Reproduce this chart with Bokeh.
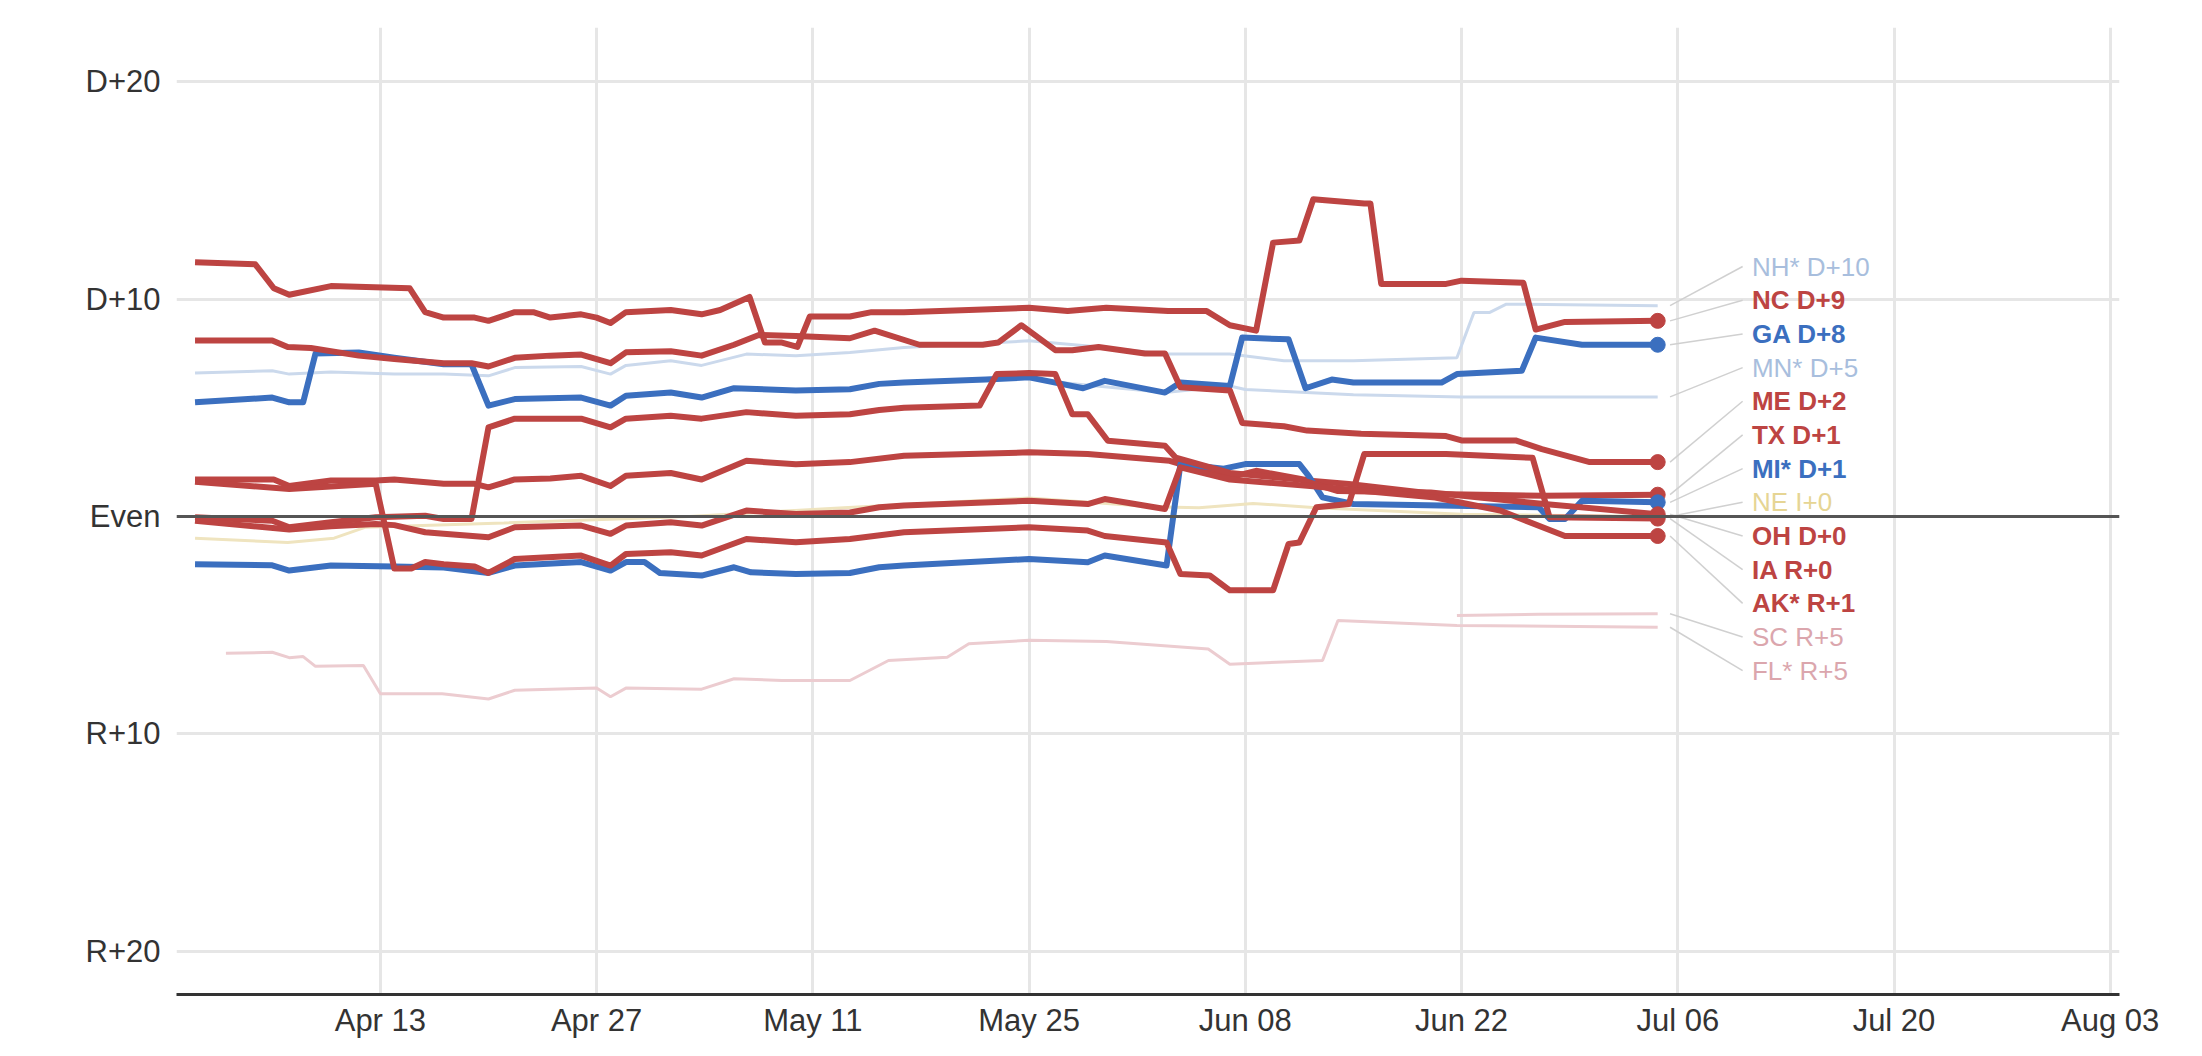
import pandas as pd
from bokeh.plotting import figure
from bokeh.models import FixedTicker, CustomJSTickFormatter, DatetimeTickFormatter, Span
from bokeh.core.properties import value
from bokeh.embed import file_html
from bokeh.resources import INLINE

BASE = pd.Timestamp("2020-04-13")

# days after Apr 13 2020, margin values (+ = D, - = R)
NC_d = [-12,-8.1,-6.9,-5.9,-3.2,1.9,2.9,4.1,6.1,7,8.7,9.9,11,13,14,14.9,15.9,18.8,20.8,22,23.9,24.9,26,27,27.8,30.4,31.8,33.9,38.1,42,44.5,47,51,53.5,55,56.7,57.8,59.5,60.4,63.7,64.1,64.8,69,70,74,74.8,76.7,82.7]
NC_v = [11.7,11.6,10.5,10.2,10.6,10.5,9.4,9.15,9.15,9.0,9.4,9.4,9.15,9.3,9.15,8.9,9.4,9.5,9.3,9.5,10.1,8.0,8.0,7.8,9.2,9.2,9.4,9.4,9.5,9.6,9.45,9.6,9.45,9.45,8.8,8.55,12.6,12.7,14.6,14.4,14.4,10.7,10.7,10.85,10.75,8.6,8.95,9.0]
ME_d = [-12,-7,-6,-4.5,-1.4,0.9,4.1,5.9,7,8.7,11,13,14.9,15.9,18.8,20.8,22.9,24.5,26.9,30.4,32,34.9,39,40,41.5,43.7,44.8,46.5,49.5,50.8,51.8,55,55.8,58.5,60,63.5,69,70,73.5,75.2,78.3,82.7]
ME_v = [8.1,8.1,7.8,7.75,7.4,7.25,7.05,7.05,6.9,7.3,7.4,7.45,7.05,7.55,7.6,7.4,7.9,8.35,8.3,8.2,8.55,7.9,7.9,8.0,8.8,7.65,7.65,7.8,7.5,7.5,5.95,5.8,4.3,4.15,3.95,3.8,3.7,3.5,3.5,3.1,2.5,2.5]
TX_d = [-12,-6.9,-5.9,-3.2,-0.3,0.9,4.1,6.1,7,8.7,11,13,14.9,15.9,18.8,20.8,23.7,26.9,30.4,33.9,38.1,42,45.8,51.1,52.2,55,56.7,60.2,62.7,68.3,75.3,82.7]
TX_v = [1.7,1.7,1.4,1.65,1.65,1.7,1.5,1.5,1.34,1.7,1.75,1.87,1.4,1.87,2.0,1.7,2.56,2.4,2.5,2.79,2.87,2.95,2.87,2.56,2.33,1.8,2.1,1.64,1.49,1.03,0.95,1.0]
IA_d = [-12,-5.9,-0.3,0.9,2,2.9,4.1,6.1,7,8.7,13,14.9,15.9,18.8,20.8,23.7,26.9,30.4,33.9,42,45.8,46.9,50.9,51.8,53.7,55,57.8,58.8,59.5,60.6,62.7,63.7,69,74.6,75.7,82.7]
IA_v = [1.6,1.26,1.5,-2.4,-2.4,-2.1,-2.2,-2.3,-2.6,-1.96,-1.8,-2.26,-1.73,-1.65,-1.8,-1.04,-1.19,-1.04,-0.73,-0.5,-0.65,-0.9,-1.2,-2.65,-2.72,-3.4,-3.4,-1.27,-1.2,0.42,0.57,2.87,2.87,2.7,-0.04,-0.1]
OH_d = [-12,-7,-5.9,-3.2,-0.3,2.9,4.1,5.9,7,8.7,13,14.9,15.9,18.8,20.8,23.7,26.9,30.4,32.3,33.9,38.8,39.9,42,43.7,44.8,45.8,47.1,50.8,51.5,55,59.5,62,68,75,82.7]
OH_v = [-0.04,-0.2,-0.5,-0.27,-0.04,0.03,-0.12,-0.12,4.1,4.5,4.5,4.1,4.5,4.63,4.5,4.8,4.63,4.7,4.9,5.0,5.1,6.55,6.6,6.55,4.7,4.7,3.48,3.25,2.7,2.0,1.7,1.17,1.1,0.6,0.1]
AK_d = [-12,-5.9,-3.2,-0.3,0.9,2.9,4.1,7,8.7,13,14.9,15.9,18.8,20.8,23.7,26.9,30.4,32.3,33.9,42,45.8,46.9,50.8,51.8,55,60.2,68.3,72.5,76.7,82.7]
AK_v = [-0.2,-0.6,-0.45,-0.35,-0.4,-0.73,-0.8,-0.96,-0.5,-0.42,-0.8,-0.42,-0.27,-0.42,0.27,0.11,0.18,0.42,0.5,0.72,0.57,0.8,0.34,2.26,1.7,1.4,0.87,0.27,-0.9,-0.9]
GA_d = [-12,-7,-5.9,-5,-4.2,-1.4,0.9,4.1,5.9,7,8.7,13,14.9,15.9,18.8,20.8,22.9,26.9,30.4,32.3,33.9,39.2,42,43.7,45.5,46.9,50.8,51.8,55,55.8,58.8,59.9,61.6,63,68.7,69.7,73.9,74.8,77.8,82.7]
GA_v = [5.25,5.47,5.25,5.25,7.5,7.54,7.3,7.0,7.0,5.1,5.4,5.47,5.1,5.55,5.7,5.47,5.9,5.8,5.85,6.1,6.16,6.3,6.4,6.16,5.9,6.24,5.7,6.16,6.0,8.23,8.15,5.9,6.3,6.16,6.16,6.55,6.7,8.23,7.9,7.9]
MI_d = [-12,-7,-5.9,-3.2,0.9,4.1,7,8.7,13,14.9,15.9,17.1,18.1,20.8,22.9,24,26.9,30.4,32.3,33.9,42,45.8,46.9,50.9,51.8,54.6,56,59.5,60.1,61,63,68.7,75,75.7,76.7,77.8,82.7]
MI_v = [-2.2,-2.25,-2.49,-2.26,-2.3,-2.35,-2.6,-2.26,-2.1,-2.49,-2.1,-2.1,-2.6,-2.72,-2.34,-2.57,-2.65,-2.6,-2.34,-2.26,-1.96,-2.11,-1.8,-2.26,2.41,2.2,2.41,2.41,1.87,0.88,0.57,0.5,0.42,-0.12,-0.12,0.72,0.65]
NH_d = [-12,-7,-5.9,-3.2,0.9,4.1,7,8.7,13,14.9,15.9,18.8,20.8,23.7,26.9,30.4,33.9,42,46.9,50.8,55,58.5,63,69.7,70.8,71.8,72.9,82.7]
NH_v = [6.6,6.7,6.55,6.65,6.55,6.55,6.47,6.85,6.9,6.55,6.95,7.16,6.95,7.47,7.4,7.54,7.77,8.08,7.77,7.47,7.47,7.16,7.16,7.3,9.38,9.38,9.77,9.7]
MN_d = [44,50.8,55,56,63,70,82.7]
MN_v = [6.16,5.7,6.0,5.84,5.6,5.5,5.5]
NE_d = [-12,-6,-3,-1,8,20,30,42,50,53,56.5,60.6,70,82.7]
NE_v = [-1.0,-1.2,-1.0,-0.5,-0.3,0.0,0.4,0.85,0.45,0.4,0.6,0.4,0.1,0.0]
SC_d = [69.7,75,82.7]
SC_v = [-4.56,-4.5,-4.48]
FL_d = [-10,-7,-5.9,-5,-4.2,-1.1,0,4,7,8.7,14,14.9,15.9,20.8,22.9,26,30.4,32.9,36.7,38.1,42,47,53.6,55,61,62,69.7,82.7]
FL_v = [-6.3,-6.25,-6.5,-6.45,-6.9,-6.86,-8.16,-8.16,-8.4,-8.0,-7.9,-8.3,-7.9,-7.95,-7.47,-7.55,-7.55,-6.63,-6.48,-5.86,-5.7,-5.75,-6.1,-6.8,-6.63,-4.79,-5.02,-5.1]

RED, BLUE = "#bd4442", "#3b6fbf"
LBLUE, LPINK, LYEL = "#cbd9ec", "#ecccd0", "#efe4bf"
series = [
    ("NH", NH_d, NH_v, LBLUE, "#a8bedd", False, "NH* D+10"),
    ("NC", NC_d, NC_v, RED, RED, True, "NC D+9"),
    ("GA", GA_d, GA_v, BLUE, BLUE, True, "GA D+8"),
    ("MN", MN_d, MN_v, LBLUE, "#a8bedd", False, "MN* D+5"),
    ("ME", ME_d, ME_v, RED, RED, True, "ME D+2"),
    ("TX", TX_d, TX_v, RED, RED, True, "TX D+1"),
    ("MI", MI_d, MI_v, BLUE, BLUE, True, "MI* D+1"),
    ("NE", NE_d, NE_v, LYEL, "#e6d594", False, "NE I+0"),
    ("OH", OH_d, OH_v, RED, RED, True, "OH D+0"),
    ("IA", IA_d, IA_v, RED, RED, True, "IA R+0"),
    ("AK", AK_d, AK_v, RED, RED, True, "AK* R+1"),
    ("SC", SC_d, SC_v, LPINK, "#dba6ad", False, "SC R+5"),
    ("FL", FL_d, FL_v, LPINK, "#dba6ad", False, "FL* R+5"),
]

def dt(days):
    return [BASE + pd.Timedelta(days=d) for d in days]

p = figure(width=2186, height=1040, x_axis_type="datetime", output_backend="svg",
           toolbar_location=None,
           x_range=(BASE + pd.Timedelta(days=-13.2), BASE + pd.Timedelta(days=112.6)),
           y_range=(-22, 22.5), min_border_top=27, min_border_bottom=44,
           min_border_left=176, min_border_right=67)
p.outline_line_color = None
p.background_fill_color = "white"
p.border_fill_color = "white"

xt = [(BASE + pd.Timedelta(days=14 * k)).value / 1e6 for k in range(9)]
p.xaxis.ticker = FixedTicker(ticks=xt)
p.xaxis.formatter = DatetimeTickFormatter(days="%b %d", months="%b %d")
p.yaxis.ticker = FixedTicker(ticks=[-20, -10, 0, 10, 20])
p.yaxis.formatter = CustomJSTickFormatter(code="""
if (tick == 0) return 'Even';
return (tick > 0 ? 'D+' : 'R+') + Math.abs(tick);""")
for ax in (p.xaxis, p.yaxis):
    ax.major_label_text_font = "Liberation Sans"
    ax.major_label_text_font_size = "31px"
    ax.major_label_text_color = "#333333"
    ax.major_tick_line_color = None
    ax.minor_tick_line_color = None
    ax.major_tick_out = 0
    ax.major_tick_in = 0
p.yaxis.axis_line_color = None
p.xaxis.axis_line_color = "#333333"
p.xaxis.axis_line_width = 3
p.xaxis.major_label_standoff = 8
p.yaxis.major_label_standoff = 16
p.grid.grid_line_color = "#e6e6e6"
p.grid.grid_line_width = 3
p.add_layout(Span(location=0, dimension="width", line_color="#555555", line_width=3))

lab_day = 88.8
for i, (nm, d, v, col, lcol, bold, lab) in enumerate(series):
    ly = 11.5 - i * 1.55
    p.segment(x0=[BASE + pd.Timedelta(days=d[-1] + 0.8)], y0=[v[-1]],
              x1=[BASE + pd.Timedelta(days=lab_day - 0.6)], y1=[ly],
              line_color="#d0d0d0", line_width=1.5)
    p.text(x=[BASE + pd.Timedelta(days=lab_day)], y=[ly], text=[lab],
           text_font=value("Liberation Sans"), text_font_size="26px",
           text_font_style="bold" if bold else "normal",
           text_color=lcol, text_baseline="middle", text_align="left")

for nm, d, v, col, lcol, bold, lab in series:
    if not bold:
        p.line(dt(d), v, line_color=col, line_width=3)
for nm, d, v, col, lcol, bold, lab in series:
    if bold:
        p.line(dt(d), v, line_color=col, line_width=6, line_join="round")
        p.scatter(dt([d[-1]]), [v[-1]], size=15, color=col)

open("out.html", "w").write(file_html(p, INLINE))
